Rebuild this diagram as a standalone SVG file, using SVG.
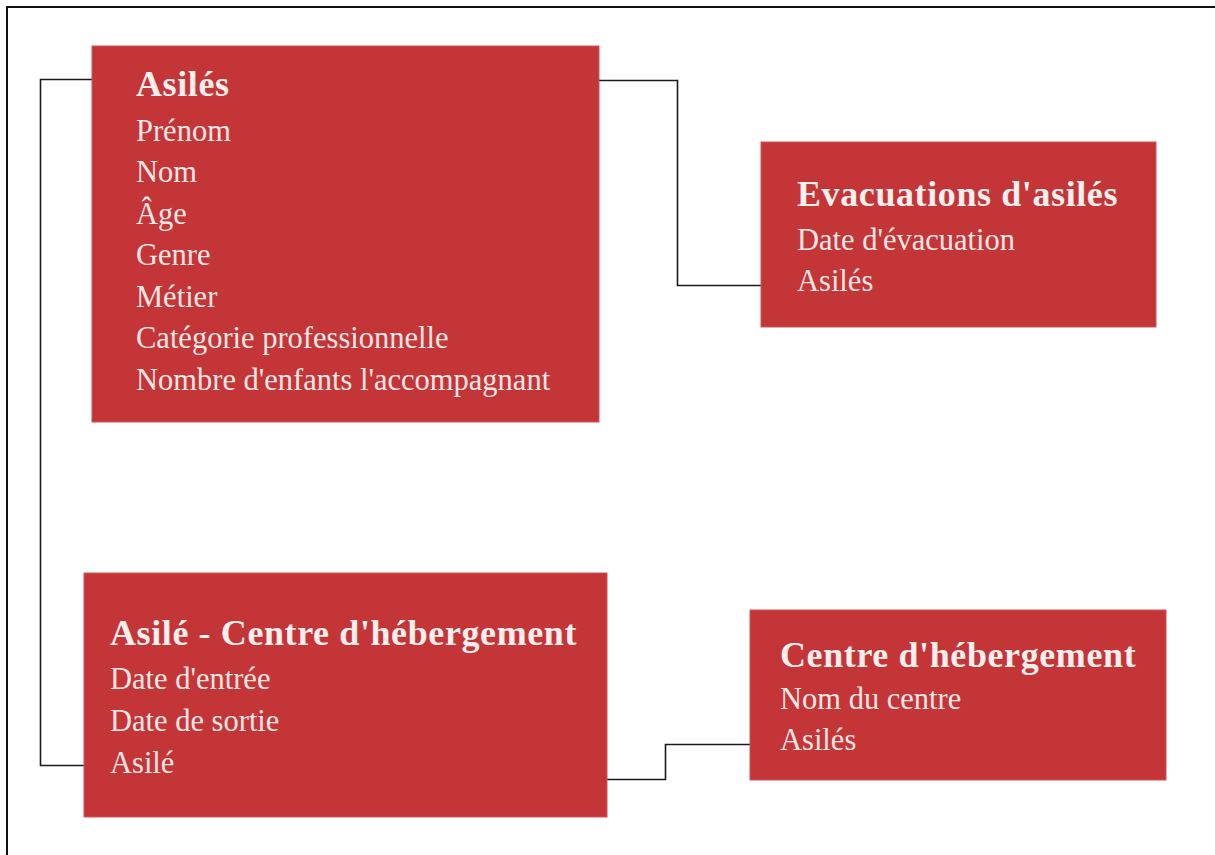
<svg xmlns="http://www.w3.org/2000/svg" width="1215" height="855" viewBox="0 0 1215 855">
<style>
.box{fill:#c43537;stroke:#cf5557;stroke-width:1}
.t{font-family:"Liberation Serif","DejaVu Serif",serif;fill:#f8e6e4;font-size:30.5px}
.h{font-family:"Liberation Serif","DejaVu Serif",serif;fill:#fbeeec;font-size:36px;font-weight:bold;letter-spacing:0.6px}
.c{fill:none;stroke:#1a1a1a;stroke-width:1.6}
</style>
<rect width="1215" height="855" fill="#ffffff"/>
<g id="frame">
<path d="M7 855 V7 H1215" fill="none" stroke="#111" stroke-width="2"/>
</g>
<g id="connectors">
<path class="c" d="M92 79.5 H40.5 V765.5 H84"/>
<path class="c" d="M599 80.5 H677.5 V285.5 H761"/>
<path class="c" d="M607 779.5 H665.5 V744.5 H750"/>
</g>
<g id="asiles">
<rect class="box" x="92" y="46" width="507" height="376"/>
<text class="h" x="136" y="96">Asilés</text>
<text class="t" x="136" y="141">Prénom</text>
<text class="t" x="136" y="182">Nom</text>
<text class="t" x="136" y="224">Âge</text>
<text class="t" x="136" y="265">Genre</text>
<text class="t" x="136" y="307">Métier</text>
<text class="t" x="136" y="348">Catégorie professionnelle</text>
<text class="t" x="136" y="390">Nombre d'enfants l'accompagnant</text>
</g>
<g id="evacuations">
<rect class="box" x="761" y="142" width="395" height="185"/>
<text class="h" x="797" y="206">Evacuations d'asilés</text>
<text class="t" x="797" y="250">Date d'évacuation</text>
<text class="t" x="797" y="291">Asilés</text>
</g>
<g id="asile-centre">
<rect class="box" x="84" y="573" width="523" height="244"/>
<text class="h" x="110" y="645">Asilé - Centre d'hébergement</text>
<text class="t" x="110" y="689">Date d'entrée</text>
<text class="t" x="110" y="731">Date de sortie</text>
<text class="t" x="110" y="773">Asilé</text>
</g>
<g id="centre">
<rect class="box" x="750" y="610" width="416" height="170"/>
<text class="h" x="780" y="667">Centre d'hébergement</text>
<text class="t" x="780" y="709">Nom du centre</text>
<text class="t" x="780" y="750">Asilés</text>
</g>
</svg>
